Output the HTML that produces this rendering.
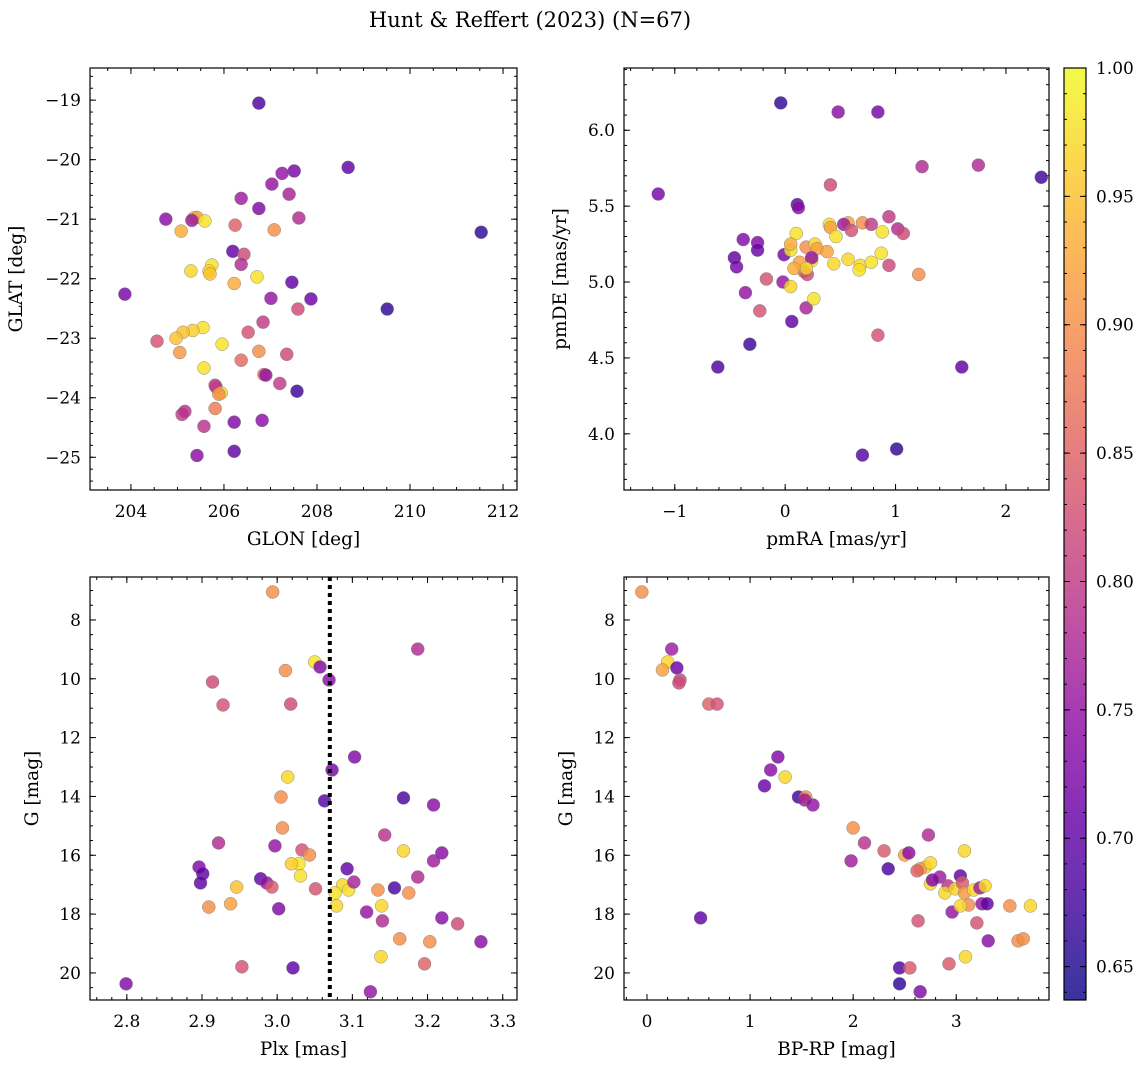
<!DOCTYPE html>
<html><head><meta charset="utf-8">
<style>
html,body{margin:0;padding:0;background:#fff;}
svg{display:block;font-family:"DejaVu Serif","Liberation Serif",serif;}
</style></head>
<body>
<svg id="fig" width="1148" height="1067" viewBox="0 0 1148 1067" xmlns="http://www.w3.org/2000/svg">
<text x="530" y="27" font-size="21" text-anchor="middle">Hunt &amp; Reffert (2023) (N=67)</text>
</svg>
<script>
// ---- Panel 1: GLON / GLAT ----
const p1x=[206.75,208.67,207.51,207.25,207.03,207.40,206.37,206.75,207.61,204.75,205.35,205.42,205.31,205.59,206.24,207.08,211.53,205.08,206.19,206.43,206.37,205.74,205.68,205.70,205.29,206.71,206.22,207.46,203.87,207.87,207.01,209.51,207.59,206.84,206.52,204.56,205.55,205.33,205.12,204.97,205.96,205.05,206.75,207.35,206.37,205.57,206.86,206.90,205.81,205.83,207.57,207.20,205.94,205.89,205.10,205.16,205.81,205.57,206.22,206.82,205.42,206.22];
const p1y=[-19.05,-20.13,-20.19,-20.23,-20.41,-20.58,-20.65,-20.82,-20.98,-21.00,-20.98,-20.97,-21.02,-21.03,-21.10,-21.18,-21.22,-21.20,-21.54,-21.59,-21.76,-21.77,-21.87,-21.92,-21.87,-21.97,-22.08,-22.06,-22.26,-22.34,-22.33,-22.51,-22.51,-22.73,-22.90,-23.05,-22.82,-22.87,-22.90,-23.00,-23.10,-23.24,-23.22,-23.27,-23.37,-23.50,-23.61,-23.62,-23.79,-23.82,-23.89,-23.76,-23.92,-23.94,-24.28,-24.23,-24.18,-24.48,-24.41,-24.38,-24.97,-24.90];
const p1c=[0.68,0.70,0.72,0.75,0.75,0.77,0.76,0.73,0.78,0.74,0.95,0.92,0.76,0.98,0.85,0.90,0.66,0.93,0.70,0.82,0.78,0.98,0.97,0.95,0.97,0.98,0.93,0.70,0.72,0.71,0.75,0.66,0.82,0.80,0.83,0.83,0.98,0.96,0.95,0.95,0.98,0.91,0.90,0.82,0.86,0.98,0.86,0.75,0.80,0.80,0.67,0.80,0.97,0.90,0.80,0.79,0.88,0.79,0.73,0.74,0.74,0.70];
// ---- Panel 2: pmRA / pmDE ----
const p2x=[-0.04,0.48,0.84,-1.15,0.11,0.12,0.41,1.24,1.75,2.32,-0.38,-0.25,-0.25,-0.46,-0.44,-0.36,-0.23,-0.32,0.06,0.19,-0.61,-0.01,-0.02,-0.17,0.05,0.10,0.05,0.13,0.19,0.17,0.24,0.27,0.20,0.29,0.38,0.24,0.19,0.08,0.05,0.26,0.40,0.41,0.57,0.46,0.53,0.60,0.70,0.78,0.88,1.02,1.07,0.57,0.68,0.44,0.78,0.87,0.67,0.94,0.94,1.21,0.84,0.70,1.01,1.60];
const p2y=[6.18,6.12,6.12,5.58,5.51,5.49,5.64,5.76,5.77,5.69,5.28,5.26,5.21,5.16,5.10,4.93,4.81,4.59,4.74,4.83,4.44,5.18,5.00,5.02,5.21,5.32,5.25,5.13,5.23,5.07,5.14,5.25,5.05,5.22,5.20,5.16,5.09,5.09,4.97,4.89,5.38,5.36,5.39,5.30,5.38,5.34,5.39,5.38,5.33,5.35,5.32,5.15,5.11,5.12,5.13,5.19,5.08,5.43,5.11,5.05,4.65,3.86,3.90,4.44];
const p2c=[0.66,0.74,0.72,0.72,0.69,0.74,0.82,0.78,0.78,0.67,0.73,0.73,0.71,0.70,0.72,0.75,0.83,0.67,0.70,0.77,0.68,0.72,0.75,0.83,0.98,0.98,0.93,0.92,0.90,0.85,0.98,0.97,0.82,0.92,0.92,0.75,0.97,0.93,0.97,0.98,0.98,0.92,0.92,0.98,0.76,0.83,0.90,0.80,0.98,0.78,0.82,0.97,0.97,0.97,0.98,0.98,0.98,0.80,0.82,0.90,0.83,0.69,0.66,0.70];
// ---- Panel 3: Plx / G ----
const p3x=[2.994,3.187,3.050,3.057,3.069,2.914,3.011,2.928,3.018,3.103,3.073,3.014,3.063,3.168,3.208,3.005,3.007,2.922,3.143,3.168,3.219,3.033,3.043,2.997,3.029,3.019,3.208,2.896,2.901,2.946,2.898,2.978,3.031,3.093,3.187,2.986,2.993,3.051,3.087,3.095,3.102,3.134,3.156,3.077,3.079,3.175,2.909,2.938,3.002,3.139,3.119,3.140,3.219,3.240,3.163,3.203,3.271,3.138,3.196,2.953,3.021,2.799,3.124];
const p3y=[7.05,8.99,9.43,9.60,10.04,10.11,9.72,10.89,10.86,12.66,13.10,13.34,14.15,14.05,14.29,14.02,15.07,15.58,15.31,15.85,15.92,15.82,15.99,15.68,16.29,16.29,16.19,16.40,16.63,17.08,16.94,16.80,16.70,16.46,16.74,16.94,17.08,17.14,17.01,17.18,16.91,17.18,17.11,17.28,17.72,17.28,17.76,17.65,17.82,17.72,17.93,18.23,18.13,18.33,18.84,18.94,18.94,19.45,19.69,19.79,19.83,20.37,20.64];
const p3c=[0.90,0.78,0.98,0.73,0.74,0.82,0.90,0.83,0.82,0.73,0.72,0.97,0.69,0.68,0.74,0.90,0.90,0.78,0.79,0.97,0.74,0.83,0.90,0.75,0.98,0.96,0.76,0.73,0.70,0.95,0.70,0.70,0.98,0.70,0.78,0.75,0.84,0.83,0.97,0.98,0.77,0.90,0.68,0.98,0.97,0.90,0.90,0.92,0.73,0.97,0.75,0.78,0.74,0.82,0.90,0.90,0.74,0.97,0.85,0.83,0.70,0.73,0.75];
const plxCut=3.07;
// ---- Panel 4: BP-RP / G ----
const p4x=[-0.05,0.24,0.20,0.15,0.29,0.32,0.31,0.60,0.68,1.27,1.20,1.34,1.14,1.47,1.54,1.53,1.61,2.00,2.11,2.30,2.50,2.54,1.98,2.34,2.70,2.65,2.62,2.75,2.73,2.75,2.84,2.77,2.92,2.89,2.99,3.08,3.04,3.06,3.08,3.12,2.96,3.04,3.17,3.23,3.28,3.25,3.20,3.30,3.31,3.52,3.72,3.60,3.65,0.52,2.63,2.45,2.55,2.93,3.09,2.45,2.65];
const p4y=[7.05,8.99,9.43,9.70,9.63,10.04,10.14,10.86,10.86,12.66,13.10,13.34,13.64,14.02,14.02,14.12,14.29,15.07,15.58,15.85,15.99,15.92,16.19,16.46,16.40,16.46,16.53,16.26,15.31,16.97,16.74,16.84,17.04,17.28,17.14,15.85,16.70,16.94,17.28,17.69,17.93,17.72,17.18,17.11,17.04,17.65,18.30,17.65,18.91,17.72,17.72,18.91,18.84,18.13,18.23,19.83,19.83,19.69,19.45,20.37,20.64];
const p4c=[0.90,0.76,0.97,0.92,0.71,0.82,0.82,0.85,0.83,0.73,0.74,0.97,0.71,0.67,0.90,0.76,0.75,0.90,0.79,0.84,0.92,0.74,0.76,0.68,0.96,0.91,0.85,0.97,0.78,0.97,0.76,0.73,0.79,0.97,0.97,0.97,0.70,0.84,0.91,0.90,0.75,0.97,0.97,0.76,0.97,0.75,0.83,0.70,0.74,0.90,0.97,0.90,0.90,0.70,0.83,0.68,0.84,0.84,0.97,0.66,0.73];
const cbTicks=[0.65,0.70,0.75,0.80,0.85,0.90,0.95,1.00];

const NS="http://www.w3.org/2000/svg";
const svg=document.getElementById('fig');
const VMIN=0.637,VMAX=1.0;
const PL=[[13,8,135],[65,4,157],[106,0,168],[143,13,164],[177,42,144],[204,71,120],[225,100,98],[242,132,75],[252,166,54],[252,206,37],[240,249,33]];
function plasma(v){let t=(v-VMIN)/(VMAX-VMIN);t=Math.max(0,Math.min(1,t));const f=t*10,i=Math.min(9,Math.floor(f)),r=f-i;const a=PL[i],b=PL[i+1];return `rgb(${Math.round(a[0]+(b[0]-a[0])*r)},${Math.round(a[1]+(b[1]-a[1])*r)},${Math.round(a[2]+(b[2]-a[2])*r)})`;}
function el(tag,attrs,parent){const e=document.createElementNS(NS,tag);for(const k in attrs)e.setAttribute(k,attrs[k]);(parent||svg).appendChild(e);return e;}
function fmt(v,d){const s=Math.abs(v).toFixed(d);return (v<-1e-9?'\u2212':'')+s;}

function panel(o){
  const g=el('g',{});
  
  
  const L=o.box[0],T=o.box[1],R=o.box[2],B=o.box[3];
  const sx=v=>L+(v-o.xd[0])/(o.xd[1]-o.xd[0])*(R-L);
  const sy=o.inv?(v=>T+(v-o.yd[0])/(o.yd[1]-o.yd[0])*(B-T)):(v=>B-(v-o.yd[0])/(o.yd[1]-o.yd[0])*(B-T));
  const ticks=(d,step)=>{const a=[];for(let v=Math.ceil(d[0]/step-1e-6)*step;v<=d[1]+1e-9;v+=step)a.push(+v.toFixed(6));return a;};
  const tg=el('g',{stroke:'#000','stroke-width':1},g);
  ticks(o.xd,o.xmin).forEach(v=>{const x=sx(v);el('line',{x1:x,x2:x,y1:B,y2:B-3},tg);el('line',{x1:x,x2:x,y1:T,y2:T+3},tg);});
  ticks(o.yd,o.ymin).forEach(v=>{const y=sy(v);el('line',{x1:L,x2:L+3,y1:y,y2:y},tg);el('line',{x1:R,x2:R-3,y1:y,y2:y},tg);});
  ticks(o.xd,o.xmaj).forEach(v=>{const x=sx(v);el('line',{x1:x,x2:x,y1:B,y2:B-6},tg);el('line',{x1:x,x2:x,y1:T,y2:T+6},tg);
    const t=el('text',{x:x,y:B+27,'font-size':17,'text-anchor':'middle'},g);t.textContent=fmt(v,o.xdec);
    });
  ticks(o.yd,o.ymaj).forEach(v=>{const y=sy(v);el('line',{x1:L,x2:L+6,y1:y,y2:y},tg);el('line',{x1:R,x2:R-6,y1:y,y2:y},tg);
    const t=el('text',{x:L-9,y:y+6,'font-size':17,'text-anchor':'end'},g);t.textContent=fmt(v,o.ydec);
    });
  const pg=el('g',{},g);
  
  
  o.x.forEach((xv,i)=>{const c=el('circle',{cx:sx(xv),cy:sy(o.y[i]),r:6.5,fill:plasma(o.c[i]),'fill-opacity':0.82,stroke:'#777','stroke-width':0.5,'stroke-opacity':0.8},pg);
    });
  if(o.vline!==undefined){const x=sx(o.vline);const ln=el('line',{x1:x,x2:x,y1:T,y2:B,stroke:'#000','stroke-width':4,'stroke-dasharray':'4,4'},g);
    }
  el('rect',{x:L,y:T,width:R-L,height:B-T,fill:'none',stroke:'#000','stroke-width':1.2},g);
  const xl=el('text',{x:(L+R)/2,y:B+55,'font-size':18.5,'text-anchor':'middle'},g);xl.textContent=o.xlab;
  
  const yl=el('text',{x:0,y:0,'font-size':18.5,'text-anchor':'middle',transform:`translate(${o.ylx},${(T+B)/2}) rotate(-90)`},g);yl.textContent=o.ylab;
  
}
panel({name:'glon-glat-panel',box:[90,68,517,490],xd:[203.12,212.3],yd:[-25.55,-18.46],xmaj:2,xmin:0.5,ymaj:1,ymin:0.2,xdec:0,ydec:0,x:p1x,y:p1y,c:p1c,xlab:'GLON [deg]',ylab:'GLAT [deg]',ylx:22});
panel({name:'proper-motion-panel',box:[624,68,1049,490],xd:[-1.46,2.39],yd:[3.63,6.41],xmaj:1,xmin:0.2,ymaj:0.5,ymin:0.1,xdec:0,ydec:1,x:p2x,y:p2y,c:p2c,xlab:'pmRA [mas/yr]',ylab:'pmDE [mas/yr]',ylx:566});
panel({name:'parallax-magnitude-panel',box:[90,577,517,1000],xd:[2.751,3.319],yd:[6.54,20.92],inv:true,xmaj:0.1,xmin:0.02,ymaj:2,ymin:0.5,xdec:1,ydec:0,x:p3x,y:p3y,c:p3c,vline:plxCut,xlab:'Plx [mas]',ylab:'G [mag]',ylx:38});
panel({name:'color-magnitude-panel',box:[624,577,1049,1000],xd:[-0.223,3.90],yd:[6.54,20.92],inv:true,xmaj:1,xmin:0.2,ymaj:2,ymin:0.5,xdec:0,ydec:0,x:p4x,y:p4y,c:p4c,xlab:'BP-RP [mag]',ylab:'G [mag]',ylx:572});

// colorbar
const cb=el('g',{});


const defs=el('defs',{},svg);
const lg=el('linearGradient',{id:'cbg',x1:0,y1:1,x2:0,y2:0},defs);
for(let i=0;i<=20;i++){const v=VMIN+(VMAX-VMIN)*i/20;el('stop',{offset:i/20,'stop-color':plasma(v)},lg);}
const CT=68,CB=1000,CL=1064,CR=1086;
el('rect',{x:CL,y:CT,width:CR-CL,height:CB-CT,fill:'url(#cbg)','fill-opacity':0.82},cb);
el('rect',{x:CL,y:CT,width:CR-CL,height:CB-CT,fill:'none',stroke:'#000','stroke-width':1.2},cb);
const cy=v=>CB-(v-VMIN)/(VMAX-VMIN)*(CB-CT);
for(let v=0.64;v<=1.0001;v+=0.01){const y=cy(v);el('line',{x1:CR,x2:CR-3,y1:y,y2:y,stroke:'#000'},cb);el('line',{x1:CL,x2:CL+3,y1:y,y2:y,stroke:'#000'},cb);}
cbTicks.forEach(v=>{const y=cy(v);el('line',{x1:CR,x2:CR-6,y1:y,y2:y,stroke:'#000'},cb);el('line',{x1:CL,x2:CL+6,y1:y,y2:y,stroke:'#000'},cb);
  const t=el('text',{x:CR+10,y:y+6,'font-size':17},cb);t.textContent=v.toFixed(2);
  });
</script>
</body></html>
